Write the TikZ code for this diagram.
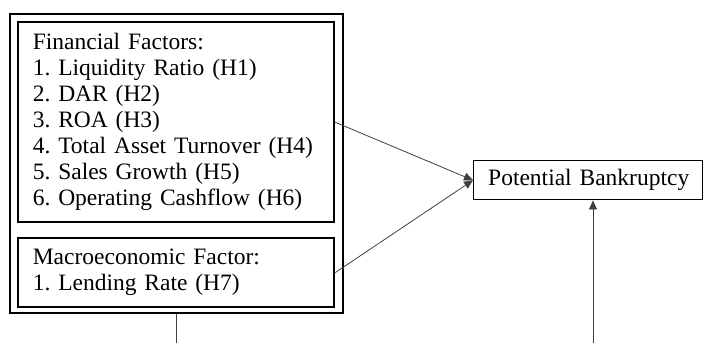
\documentclass[tikz,border=0pt]{standalone}
\usepackage{fontspec}
\setmainfont{Liberation Serif}
\usetikzlibrary{arrows.meta}
\begin{document}
\frenchspacing
\begin{tikzpicture}[x=1pt,y=-1pt,
  txt/.style={font=\fontsize{23.5}{26}\selectfont\frenchspacing},
  factorbox/.style={draw, line width=1.6pt, txt, align=left, inner xsep=15pt, inner ysep=0pt,
    text width=286pt, minimum width=316pt, anchor=north west},
  outerbox/.style={draw, line width=2pt, minimum width=333pt, minimum height=299pt, anchor=north west, inner sep=0pt},
  targetbox/.style={draw, line width=1.4pt, txt, align=left, inner xsep=14pt, inner ysep=0pt,
    text width=200pt, minimum width=229pt, minimum height=39pt, anchor=north west},
  conn/.style={draw=black!75, line width=0.8pt},
  arr/.style={conn, -{Triangle[length=9pt,width=8pt]}}]
\useasboundingbox (0,0) rectangle (703,343);
\node[outerbox] (outer) at (9,13) {};
\node[factorbox, minimum height=200pt] (fin) at (17,21) {Financial Factors:\\1. Liquidity Ratio (H1)\\2. DAR (H2)\\3. ROA (H3)\\4. Total Asset Turnover (H4)\\5. Sales Growth (H5)\\6. Operating Cashflow (H6)};
\node[factorbox, minimum height=69pt] (mac) at (17,237) {Macroeconomic Factor:\\1. Lending Rate (H7)};
\node[targetbox] (pb) at (473,160) {\mbox{Potential Bankruptcy}};
\coordinate (b1) at (176,343);
\coordinate (b2) at (593,343);
\draw[arr] (fin.east |- 0,122) -- (pb.west);
\draw[arr] (mac.east |- 0,273) -- (pb.west);
\draw[conn] (outer.south -| b1) -- (b1);
\draw[arr] (b2) -- (b2 |- pb.south);
\end{tikzpicture}
\end{document}
